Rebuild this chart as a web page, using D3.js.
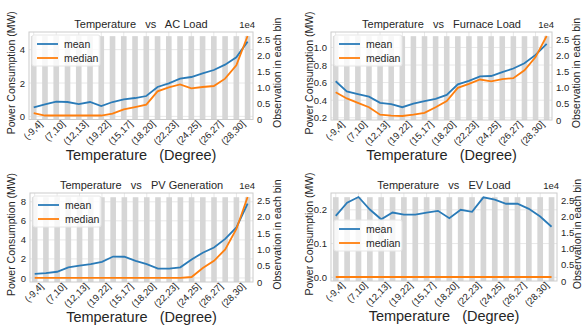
<!DOCTYPE html>
<html>
<head>
<meta charset="utf-8">
<script src="https://cdn.jsdelivr.net/npm/d3@7"></script>
<style>
  body { margin: 0; background: #fff; }
  text { font-family: "Liberation Sans", Arial, sans-serif; fill: #262626; }
</style>
</head>
<body>
<svg id="chart" width="583" height="329"></svg>
<script>
// temperature bins, only every other one is labelled
const tickLabels = ['(-9,4]', '(7,10]', '(12,13]', '(19,22]', '(15,17]', '(18,20]', '(22,23]', '(24,25]', '(26,27]', '(28,30]'];
const tickIndex = [0, 2, 4, 6, 8, 10, 12, 14, 16, 18];

// observations per bin (right axis)
const obsCount = [26000, 26000, 26000, 26000, 26000, 26000, 26000, 26000, 26000, 26000,
                  26000, 26000, 26000, 26000, 26000, 26000, 26000, 26000, 26000, 26000];

const acMean = [0.54, 0.72, 0.88, 0.86, 0.74, 0.86, 0.62, 0.86, 1.02, 1.1, 1.22, 1.76, 1.98, 2.26, 2.36, 2.58, 2.78, 3.1, 3.54, 4.48];
const acMedian = [0.2, 0.05, 0.05, 0.05, 0.05, 0.05, 0.05, 0.16, 0.42, 0.56, 0.7, 1.5, 1.74, 1.92, 1.68, 1.76, 1.82, 2.26, 3.06, 4.82];

const furnaceMean = [0.615, 0.5, 0.47, 0.44, 0.37, 0.355, 0.32, 0.36, 0.39, 0.415, 0.46, 0.58, 0.62, 0.67, 0.675, 0.72, 0.76, 0.82, 0.915, 1.04];
const furnaceMedian = [0.49, 0.42, 0.37, 0.32, 0.235, 0.225, 0.22, 0.235, 0.255, 0.32, 0.39, 0.54, 0.585, 0.635, 0.615, 0.64, 0.65, 0.74, 0.89, 1.13];

const pvMean = [0.42, 0.5, 0.65, 1.1, 1.3, 1.45, 1.7, 2.25, 2.23, 1.8, 1.45, 0.98, 0.98, 1.12, 1.95, 2.65, 3.2, 4.1, 5.3, 7.8];
const pvMedian = [0, 0, 0, 0, 0, 0, 0, 0, 0, 0, 0, 0, 0, 0, 0.1, 1.05, 1.8, 3.0, 5.15, 8.5];

const evMean = [0.182, 0.221, 0.238, 0.201, 0.172, 0.192, 0.186, 0.186, 0.192, 0.197, 0.175, 0.2, 0.194, 0.237, 0.23, 0.218, 0.218, 0.203, 0.18, 0.15];
const evMedian = [0.001, 0.001, 0.001, 0.001, 0.001, 0.001, 0.001, 0.001, 0.001, 0.001,
                  0.001, 0.001, 0.001, 0.001, 0.001, 0.001, 0.001, 0.001, 0.001, 0.001];

const blue = '#2a7bb8';
const orange = '#ff7f0e';

const svg = d3.select('#chart');

const panels = [
  { title: 'Temperature   vs   AC Load', mean: acMean, median: acMedian,
    left: 29, right: 253, top: 32, bottom: 119.5, ticks: [0, 2, 4], fmt: d3.format('d'), legendTop: 3, ylabGap: 14 },
  { title: 'Temperature   vs   Furnace Load', mean: furnaceMean, median: furnaceMedian,
    left: 331, right: 552, top: 32, bottom: 120, ticks: [0.2, 0.4, 0.6, 0.8, 1.0], fmt: d3.format('.1f'), legendTop: 3, ylabGap: 18 },
  { title: 'Temperature   vs   PV Generation', mean: pvMean, median: pvMedian,
    left: 30, right: 253, top: 193, bottom: 282, ticks: [0, 2, 4, 6, 8], fmt: d3.format('d'), legendTop: 3, ylabGap: 15 },
  { title: 'Temperature   vs   EV Load', mean: evMean, median: evMedian,
    left: 331, right: 557, top: 193, bottom: 281, ticks: [0, 0.1, 0.2], fmt: d3.format('.1f'), legendTop: 27, ylabGap: 18 }
];

panels.forEach(drawPanel);

function drawPanel(p) {
  const g = svg.append('g');
  const n = p.mean.length;

  const x = d3.scaleLinear().domain([-0.42, n - 1 + 0.48]).range([p.left, p.right]);

  const all = p.mean.concat(p.median);
  const lo = d3.min(all), hi = d3.max(all), pad = (hi - lo) * 0.05;
  const yL = d3.scaleLinear().domain([lo - pad, hi + pad]).range([p.bottom, p.top]);
  const yR = d3.scaleLinear().domain([0, d3.max(obsCount) * 1.05]).range([p.bottom, p.top]);

  // grid
  g.selectAll('.hgrid').data(p.ticks).enter().append('line')
    .attr('x1', p.left).attr('x2', p.right)
    .attr('y1', d => yL(d)).attr('y2', d => yL(d))
    .attr('stroke', '#e8e8e8').attr('stroke-width', 1);
  g.selectAll('.vgrid').data(tickIndex).enter().append('line')
    .attr('x1', d => x(d)).attr('x2', d => x(d))
    .attr('y1', p.top).attr('y2', p.bottom)
    .attr('stroke', '#e8e8e8').attr('stroke-width', 1);

  // bars
  const bw = x(0.5) - x(0);
  g.selectAll('.bar').data(obsCount).enter().append('rect')
    .attr('x', (d, i) => x(i) - bw / 2)
    .attr('width', bw)
    .attr('y', d => yR(d))
    .attr('height', d => yR(0) - yR(d))
    .attr('fill', '#d6d6d6');

  // lines
  const line = d3.line().x((d, i) => x(i)).y(d => yL(d));
  g.append('path').attr('d', line(p.mean)).attr('fill', 'none')
    .attr('stroke', blue).attr('stroke-width', 1.8);
  g.append('path').attr('d', line(p.median)).attr('fill', 'none')
    .attr('stroke', orange).attr('stroke-width', 1.8);

  // frame
  g.append('rect').attr('x', p.left).attr('y', p.top)
    .attr('width', p.right - p.left).attr('height', p.bottom - p.top)
    .attr('fill', 'none').attr('stroke', '#cccccc').attr('stroke-width', 1);

  // left axis
  const axL = g.append('g').attr('transform', `translate(${p.left},0)`)
    .call(d3.axisLeft(yL).tickValues(p.ticks).tickFormat(p.fmt).tickSize(0).tickPadding(4));
  axL.select('.domain').remove();
  axL.selectAll('text').style('font-size', '9.5px').attr('fill', '#262626');

  // right axis
  const axR = g.append('g').attr('transform', `translate(${p.right},0)`)
    .call(d3.axisRight(yR).tickValues([0, 5000, 10000, 15000, 20000, 25000])
      .tickFormat(d => d === 0 ? '0' : d3.format('.1f')(d / 1e4)).tickSize(0).tickPadding(4));
  axR.select('.domain').remove();
  axR.selectAll('text').style('font-size', '9.5px').attr('fill', '#262626');
  g.append('text').attr('x', p.right + 2).attr('y', p.top - 4)
    .attr('text-anchor', 'end').style('font-size', '9.5px').text('1e4');

  // bottom axis
  const axB = g.append('g').attr('transform', `translate(0,${p.bottom})`)
    .call(d3.axisBottom(x).tickValues(tickIndex).tickFormat((d, i) => tickLabels[i]).tickSize(0).tickPadding(0));
  axB.select('.domain').remove();
  axB.selectAll('text')
    .style('font-size', '9.5px').attr('fill', '#262626')
    .attr('text-anchor', 'end').attr('dy', null).attr('y', 0)
    .attr('transform', 'translate(9,5) rotate(-45)');

  // titles and labels
  g.append('text').attr('x', (p.left + p.right) / 2).attr('y', p.top - 4)
    .attr('text-anchor', 'middle').style('font-size', '11px').style('white-space', 'pre')
    .text(p.title);
  g.append('text').attr('x', (p.left + p.right) / 2).attr('y', p.bottom + 40)
    .attr('text-anchor', 'middle').style('font-size', '14.5px').style('white-space', 'pre')
    .text('Temperature   (Degree)');
  g.append('text')
    .attr('transform', `translate(${p.left - p.ylabGap},${(p.top + p.bottom) / 2 - 3}) rotate(-90)`)
    .attr('text-anchor', 'middle').style('font-size', '10.5px')
    .text('Power Consumption (MW)');
  g.append('text')
    .attr('transform', `translate(${Math.min(p.right + 28, 581)},${(p.top + p.bottom) / 2 - 3}) rotate(-90)`)
    .attr('text-anchor', 'middle').style('font-size', '10.5px')
    .text('Observation in each bin');

  // legend
  const lg = g.append('g').attr('transform', `translate(${p.left + 3},${p.top + p.legendTop})`);
  lg.append('rect').attr('width', 68).attr('height', 31).attr('rx', 2)
    .attr('fill', '#fff').attr('fill-opacity', 0.8).attr('stroke', '#e6e6e6');
  [['mean', blue], ['median', orange]].forEach(([name, c], i) => {
    const yy = 9 + i * 14;
    lg.append('line').attr('x1', 5).attr('x2', 26).attr('y1', yy).attr('y2', yy)
      .attr('stroke', c).attr('stroke-width', 1.8);
    lg.append('text').attr('x', 32).attr('y', yy + 3.5).style('font-size', '10.5px').text(name);
  });
}
</script>
</body>
</html>
